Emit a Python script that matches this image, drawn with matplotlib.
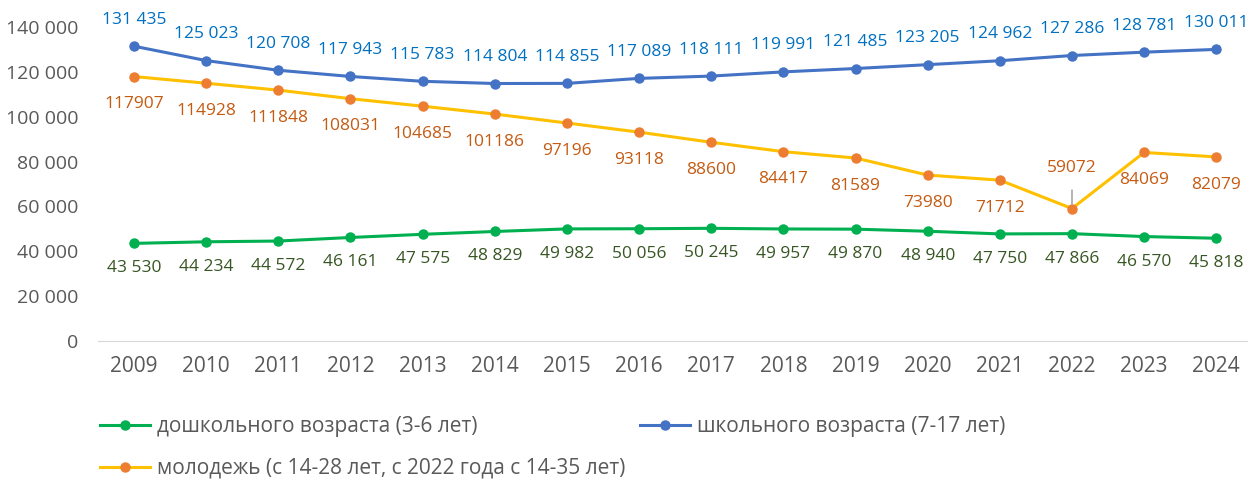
import numpy as np
import matplotlib.pyplot as plt
from matplotlib.lines import Line2D

plt.rcParams['font.family'] = ['Open Sans', 'DejaVu Sans']

# Data
years = list(range(2009, 2025))
preschool = [43530, 44234, 44572, 46161, 47575, 48829, 49982, 50056,
             50245, 49957, 49870, 48940, 47750, 47866, 46570, 45818]
school = [131435, 125023, 120708, 117943, 115783, 114804, 114855, 117089,
          118111, 119991, 121485, 123205, 124962, 127286, 128781, 130011]
youth = [117907, 114928, 111848, 108031, 104685, 101186, 97196, 93118,
         88600, 84417, 81589, 73980, 71712, 59072, 84069, 82079]

labels = ['дошкольного возраста (3-6 лет)',
          'школьного возраста (7-17 лет)',
          'молодежь (с 14-28 лет, с 2022 года с 14-35 лет)']

def spaced(v):
    return f'{v:,}'.replace(',', ' ')

fig = plt.figure(figsize=(12.48, 4.82), dpi=100)
ax = fig.add_axes([0.0785, 0.2925, 0.925, 0.6515])

x = np.arange(len(years))
ax.plot(x, preschool, color='#00B050', lw=2.2, marker='o', ms=6.5, zorder=3)
ax.plot(x, school, color='#4472C4', lw=2.2, marker='o', ms=6.5, zorder=3)
ax.plot(x, youth, color='#FFC000', lw=2.2, marker='o', ms=6.5,
        mfc='#ED7D31', mec='#ED7D31', zorder=3)

# data labels
fs = 12.5
for i, v in enumerate(school):
    ax.annotate(spaced(v), (i, v), xytext=(0, 19), textcoords='offset points',
                ha='center', va='center', fontsize=fs, color='#0070C0')
for i, v in enumerate(preschool):
    ax.annotate(spaced(v), (i, v), xytext=(0, -18), textcoords='offset points',
                ha='center', va='center', fontsize=fs, color='#375623')
for i, v in enumerate(youth):
    if years[i] == 2022:
        ax.annotate(str(v), (i, v), xytext=(0, 29), textcoords='offset points',
                    ha='center', va='center', fontsize=fs, color='#C55A11',
                    arrowprops=dict(arrowstyle='-', color='#A6A6A6', lw=1.2,
                                    shrinkA=8, shrinkB=3))
    else:
        ax.annotate(str(v), (i, v), xytext=(0, -20), textcoords='offset points',
                    ha='center', va='center', fontsize=fs, color='#C55A11')

ax.set_xlim(-0.5, len(years) - 0.5)
ax.set_ylim(0, 140000)
ax.set_yticks(np.arange(0, 140001, 20000))
ax.set_yticklabels([spaced(t) for t in range(0, 140001, 20000)])
ax.set_xticks(x)
ax.set_xticklabels([str(y) for y in years])
ax.tick_params(axis='y', length=0, labelsize=14, colors='#595959', pad=14)
ax.tick_params(axis='x', length=0, labelsize=15, colors='#595959', pad=11)
for s in ['top', 'right', 'left']:
    ax.spines[s].set_visible(False)
ax.spines['bottom'].set_color('#D9D9D9')

# legend
handles = [Line2D([], [], color='#00B050', lw=2.2, marker='o', ms=6.5),
           Line2D([], [], color='#FFC000', lw=2.2, marker='o', ms=6.5,
                  mfc='#ED7D31', mec='#ED7D31'),
           Line2D([], [], color='#4472C4', lw=2.2, marker='o', ms=6.5)]
fig.legend(handles, [labels[0], labels[2], labels[1]], ncol=2,
           loc='upper left', bbox_to_anchor=(0.08, 0.137), frameon=False,
           fontsize=15, labelcolor='#595959', handlelength=2.4,
           handletextpad=0.35, columnspacing=0.7, labelspacing=1.0,
           borderaxespad=0, borderpad=0)

fig.savefig('out.png', dpi=100)
